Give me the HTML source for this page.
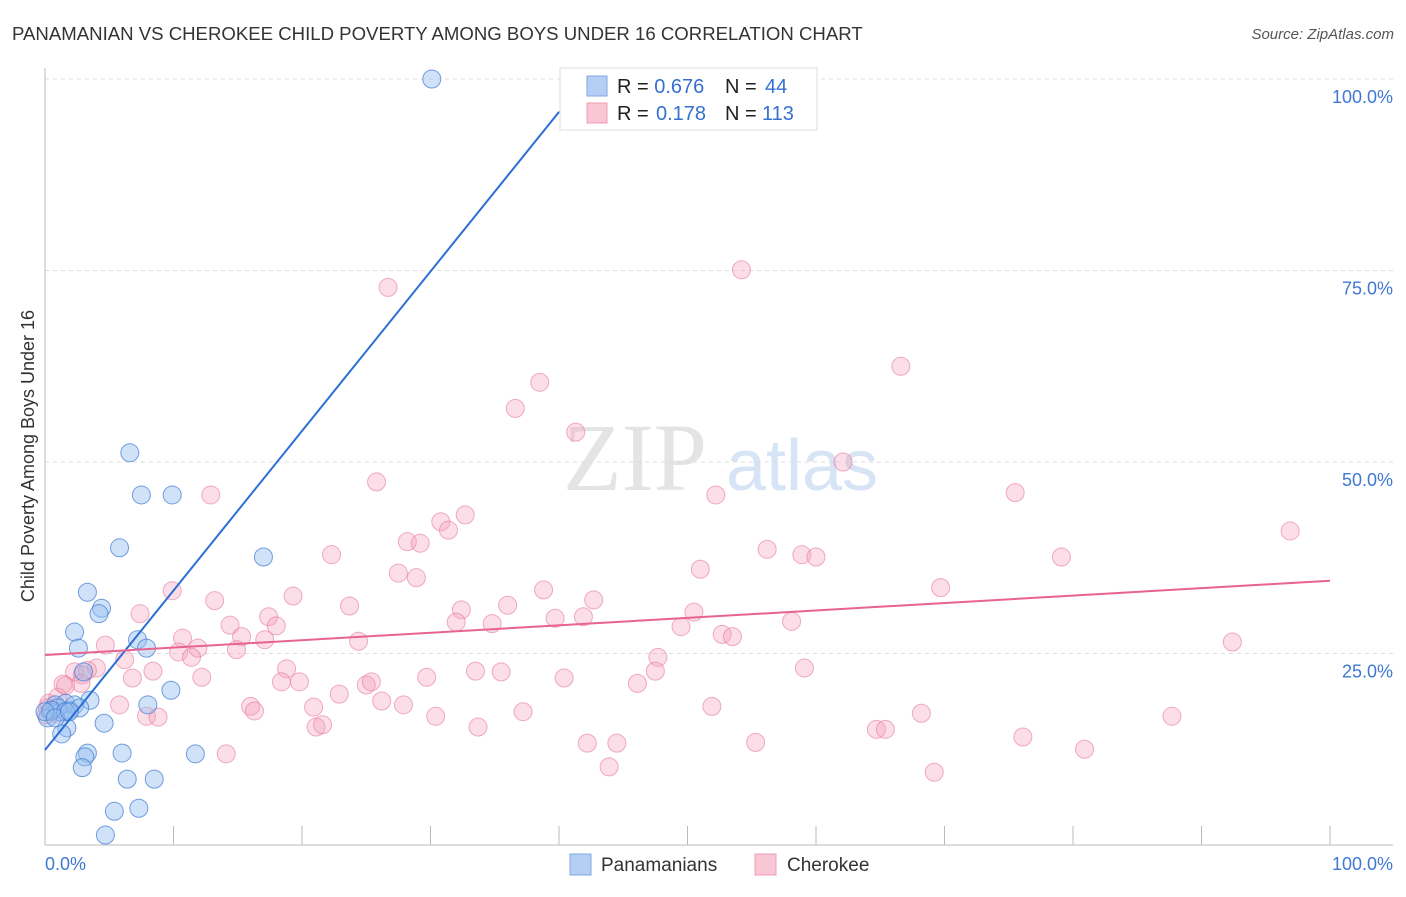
<!DOCTYPE html>
<html><head><meta charset="utf-8"><style>
body{margin:0;background:#fff;font-family:"Liberation Sans",sans-serif;}
</style></head><body>
<svg width="1406" height="892" xmlns="http://www.w3.org/2000/svg">
<text x="12" y="40" font-size="18.6" fill="#333">PANAMANIAN VS CHEROKEE CHILD POVERTY AMONG BOYS UNDER 16 CORRELATION CHART</text>
<text x="1394" y="39" font-size="15" fill="#555" font-style="italic" text-anchor="end">Source: ZipAtlas.com</text>
<text x="635" y="490" font-size="96" fill="#e4e4e4" font-family="Liberation Serif,serif" text-anchor="middle">ZIP</text>
<text x="802" y="490" font-size="72" fill="#d6e4f5" text-anchor="middle">atlas</text>
<text x="34" y="456" font-size="18" fill="#333" text-anchor="middle" transform="rotate(-90 34 456)">Child Poverty Among Boys Under 16</text>
<g id="grid"></g><g id="axes"></g><g id="marks"></g>
<g>
<rect x="560" y="68" width="257" height="62" fill="#fff" stroke="#ddd"/>
<rect x="587" y="76" width="20" height="20" fill="#b4cff3" stroke="#7fa8e0"/>
<rect x="587" y="103" width="20" height="20" fill="#f9c6d5" stroke="#ef9cb6"/>
<text x="617" y="93" font-size="20" fill="#222">R = <tspan fill="#3470d0">0.676</tspan><tspan x="725">N = </tspan><tspan fill="#3470d0" x="765">44</tspan></text>
<text x="617" y="120" font-size="20" fill="#222">R = <tspan fill="#3470d0" x="656">0.178</tspan><tspan x="725">N = </tspan><tspan fill="#3470d0" x="762">113</tspan></text>
</g>
<g>
<rect x="570" y="854" width="21" height="21" fill="#b4cff3" stroke="#7fa8e0"/>
<text x="601" y="871" font-size="19" fill="#333">Panamanians</text>
<rect x="755" y="854" width="21" height="21" fill="#f9c6d5" stroke="#ef9cb6"/>
<text x="787" y="871" font-size="19" fill="#333">Cherokee</text>
</g>
</svg>
<script>
const yTicks=[25,50,75,100];
const yTickLabels=["25.0%","50.0%","75.0%","100.0%"];
const xTicks=[0,10,20,30,40,50,60,70,80,90,100];
const panX=[30.1,6.6,7.5,9.9,5.8,17.0,3.3,4.4,4.2,2.3,7.2,7.9,2.6,3.0,3.5,9.8,8.0,0.8,1.2,0.4,1.9,1.6,0.2,4.6,1.7,1.3,6.0,3.3,3.1,2.9,6.4,8.5,11.7,5.4,7.3,4.7,2.3,1.0,0.5,2.7,0,1.6,0.8,1.9];
const panY=[100,51.2,45.7,45.7,38.8,37.6,33.0,30.9,30.2,27.8,26.8,25.7,25.7,22.6,18.9,20.2,18.3,18.3,17.4,17.4,17.6,18.5,16.6,15.9,15.3,14.5,12.0,12.0,11.5,10.1,8.6,8.6,11.9,4.4,4.8,1.3,18.3,17.9,17.6,17.9,17.4,17.4,16.6,17.4];
const cherX=[54.2,26.7,66.6,38.5,36.6,41.3,62.1,25.8,12.9,52.2,75.5,32.7,30.8,31.4,96.9,28.2,29.2,22.3,56.2,58.9,60.0,79.1,27.5,28.9,51.0,38.8,69.7,9.9,19.3,13.2,42.7,23.7,36.0,32.4,7.4,50.5,17.4,39.7,41.9,32.0,14.4,34.8,49.5,58.1,18.0,52.7,53.5,10.7,15.3,17.1,24.4,4.7,11.9,14.9,10.4,92.4,11.4,47.7,6.2,47.5,2.3,4.0,3.3,2.9,18.8,8.4,12.2,33.5,35.5,59.1,29.7,18.4,19.8,6.8,40.4,46.1,1.4,25.0,25.4,2.8,22.9,26.2,16.0,5.8,27.9,16.3,20.9,51.9,37.2,7.9,8.8,30.4,68.2,87.7,21.1,21.6,33.7,64.7,65.4,76.1,42.2,44.5,55.3,80.9,14.1,43.9,69.2,0.3,0.8,0.1,1.0,1.6,0.2];
const cherY=[75.1,72.8,62.5,60.4,57.0,53.9,50.0,47.4,45.7,45.7,46.0,43.1,42.2,41.1,41.0,39.6,39.4,37.9,38.6,37.9,37.6,37.6,35.5,34.9,36.0,33.3,33.6,33.2,32.5,31.9,32.0,31.2,31.3,30.7,30.2,30.4,29.8,29.6,29.8,29.1,28.7,28.9,28.5,29.2,28.6,27.5,27.2,27.0,27.2,26.8,26.6,26.1,25.7,25.5,25.2,26.5,24.5,24.5,24.2,22.7,22.6,23.1,22.8,22.2,23.0,22.7,21.9,22.7,22.6,23.1,21.9,21.3,21.3,21.8,21.8,21.1,21.0,20.9,21.3,21.1,19.7,18.8,18.1,18.3,18.3,17.5,18.0,18.1,17.4,16.8,16.7,16.8,17.2,16.8,15.4,15.7,15.4,15.1,15.1,14.1,13.3,13.3,13.4,12.5,11.9,10.2,9.5,18.5,17.2,17.0,19.3,20.8,17.9];
const panLine=[0,12.4,40,95.7];
const cherLine=[0,24.8,100,34.5];
const NS="http://www.w3.org/2000/svg";
const sx=v=>45+v*12.85, sy=v=>845-v*7.66;
function mk(t,a,p){const e=document.createElementNS(NS,t);for(const k in a)e.setAttribute(k,a[k]);p.appendChild(e);return e;}
const grid=document.getElementById('grid'),axes=document.getElementById('axes'),marks=document.getElementById('marks');
yTicks.forEach((v,i)=>{
 const l=mk('line',{x1:45,x2:1393,y1:sy(v),y2:sy(v),stroke:'#ddd','stroke-dasharray':'4,4'},grid);
 
 
 const t=mk('text',{x:1393,y:sy(v)+24,'font-size':18,fill:'#3f78d4','text-anchor':'end'},grid);
 t.textContent=yTickLabels[i];
 
 
});
mk('line',{x1:45,x2:45,y1:68,y2:845,stroke:'#bbb'},axes);
mk('line',{x1:45,x2:1393,y1:845,y2:845,stroke:'#bbb'},axes);
xTicks.forEach(v=>{const l=mk('line',{x1:sx(v),x2:sx(v),y1:826,y2:845,stroke:'#bbb'},axes);
 
 });
const x0=mk('text',{x:45,y:870,'font-size':18,fill:'#3f78d4'},axes);x0.textContent='0.0%';


const x1=mk('text',{x:1393,y:870,'font-size':18,fill:'#3f78d4','text-anchor':'end'},axes);x1.textContent='100.0%';


cherX.forEach((x,i)=>{const c=mk('circle',{cx:sx(x),cy:sy(cherY[i]),r:9,fill:'rgba(244,160,186,0.35)',stroke:'rgba(232,120,156,0.6)','stroke-width':1},marks);
 
 });
panX.forEach((x,i)=>{const c=mk('circle',{cx:sx(x),cy:sy(panY[i]),r:9,fill:'rgba(150,190,240,0.45)',stroke:'rgba(60,120,210,0.7)','stroke-width':1},marks);
 
 });
const pl=mk('line',{x1:sx(panLine[0]),y1:sy(panLine[1]),x2:sx(panLine[2]),y2:sy(panLine[3]),stroke:'#2b6fd6','stroke-width':2},marks);


const s=(panLine[3]-panLine[1])/(panLine[2]-panLine[0]);
const pd=mk('line',{x1:sx(panLine[2]),y1:sy(panLine[3]),x2:sx(panLine[2]+(100-panLine[3])/s),y2:sy(100),stroke:'#9bb8e6','stroke-width':1.2,'stroke-dasharray':'4,3'},marks);


const cl=mk('line',{x1:sx(cherLine[0]),y1:sy(cherLine[1]),x2:sx(cherLine[2]),y2:sy(cherLine[3]),stroke:'#e8638f','stroke-width':2},marks);


</script>
</body></html>
